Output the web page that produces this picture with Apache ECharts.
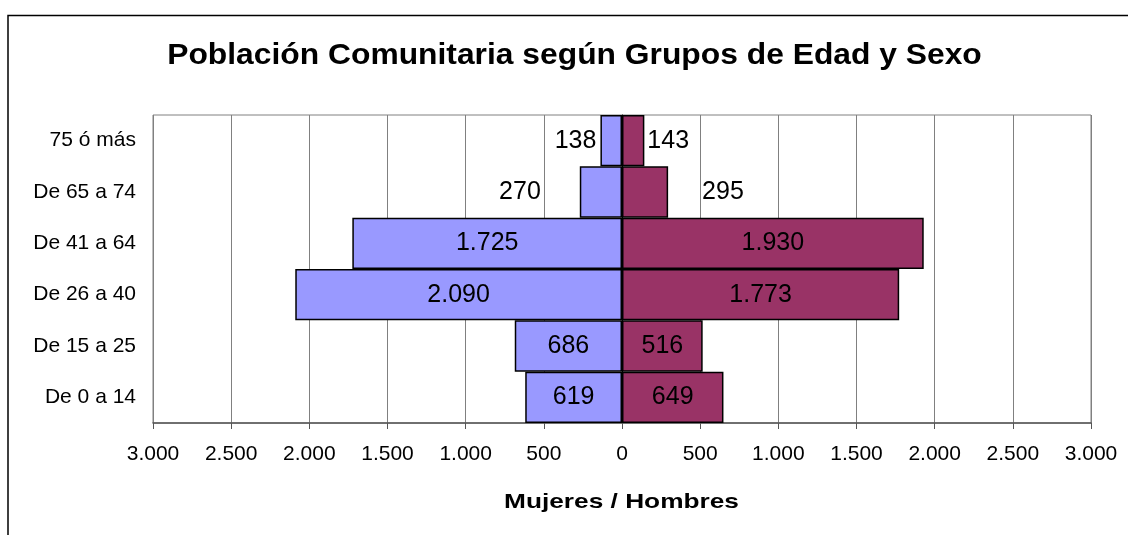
<!DOCTYPE html>
<html><head><meta charset="utf-8">
<script src="https://cdn.jsdelivr.net/npm/echarts@6/dist/echarts.min.js"></script>
<style>html,body{margin:0;padding:0;background:#fff}#c{width:1128px;height:535px}</style>
</head><body><div id="c"></div>
<script>
const categories = ["De 0 a 14", "De 15 a 25", "De 26 a 40", "De 41 a 64", "De 65 a 74", "75 ó más"];
const mujeres = [619, 686, 2090, 1725, 270, 138];
const hombres = [649, 516, 1773, 1930, 295, 143];
const titleText = 'Población Comunitaria según Grupos de Edad y Sexo';
const axisTitle = 'Mujeres / Hombres';

const fmt = v => { const a = Math.abs(Math.round(v)); return a.toString().replace(/\B(?=(\d{3})+(?!\d))/g, '.'); };
const FONT = '"Liberation Sans", Arial, sans-serif';

// label placement per point (styling only)
const mLabel = [{}, {}, {}, {}, {position: 'left', distance: 39}, {position: 'left', distance: 4}];
const hLabel = [{}, {}, {}, {}, {position: 'right', distance: 34}, {position: 'right', distance: 3}];

const chart = echarts.init(document.getElementById('c'), null, {renderer: 'canvas'});
chart.setOption({
  animation: false,
  backgroundColor: '#fff',
  graphic: [{
    type: 'rect', shape: {x: 8, y: 15.5, width: 1300, height: 700},
    style: {fill: null, stroke: '#000', lineWidth: 1.5}, z: 100, silent: true
  }, {
    type: 'text', x: 574.5, y: 56, scaleX: 1.06,
    style: {text: titleText, x: 0, y: 0, align: 'center', verticalAlign: 'middle',
      font: 'bold 30px ' + FONT, fill: '#000'}, z: 100, silent: true
  }, {
    type: 'text', x: 621.5, y: 502, scaleX: 1.25,
    style: {text: axisTitle, x: 0, y: 0, align: 'center', verticalAlign: 'middle',
      font: 'bold 21px ' + FONT, fill: '#000'}, z: 100, silent: true
  }],
  grid: {left: 153, right: 37, top: 115, bottom: 112, show: true, borderColor: '#808080', borderWidth: 1, backgroundColor: 'transparent'},
  xAxis: {
    type: 'value', min: -3000, max: 3000, interval: 500,
    axisLine: {show: true, onZero: false, lineStyle: {color: '#555', width: 1.5}},
    axisTick: {show: true, length: 6, lineStyle: {color: '#555', width: 1}},
    axisLabel: {margin: 21, fontFamily: FONT, fontSize: 21, color: '#000', formatter: v => fmt(v)},
    splitLine: {show: true, lineStyle: {color: '#808080', width: 1}}
  },
  yAxis: [{
    type: 'category', data: categories, position: 'left',
    axisLine: {show: false, onZero: false}, axisTick: {show: false},
    axisLabel: {margin: 17, fontFamily: FONT, fontSize: 21, color: '#000'}
  }, {
    type: 'category', data: categories, position: 'left',
    axisLine: {show: true, onZero: true, lineStyle: {color: '#000', width: 1}},
    axisTick: {show: true, inside: true, alignWithLabel: true, length: 5, lineStyle: {color: '#000'}},
    axisLabel: {show: false}
  }],
  series: [{
    name: 'Mujeres', type: 'bar', stack: 'p', yAxisIndex: 0, barCategoryGap: '0%',
    data: mujeres.map((v, i) => ({value: -v, label: mLabel[i]})),
    itemStyle: {color: '#9999FF', borderColor: '#000', borderWidth: 1.5},
    label: {show: true, position: 'inside', fontFamily: FONT, fontSize: 25, color: '#000', formatter: p => fmt(p.value)},
    z: 3
  }, {
    name: 'Hombres', type: 'bar', stack: 'p', yAxisIndex: 0, barCategoryGap: '0%',
    data: hombres.map((v, i) => ({value: v, label: hLabel[i]})),
    itemStyle: {color: '#993366', borderColor: '#000', borderWidth: 1.5},
    label: {show: true, position: 'inside', fontFamily: FONT, fontSize: 25, color: '#000', formatter: p => fmt(p.value)},
    z: 3
  }]
});
</script></body></html>
